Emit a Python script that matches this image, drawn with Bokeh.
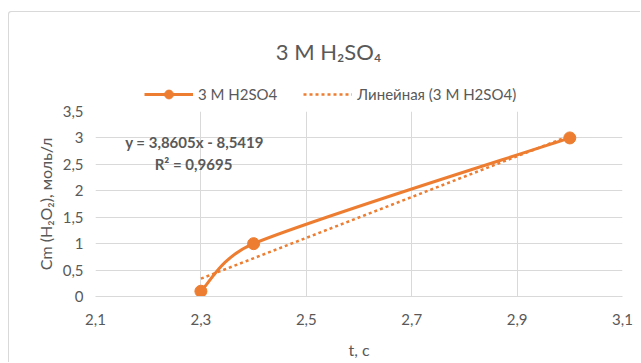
import numpy as np
from bokeh.plotting import figure
from bokeh.layouts import column
from bokeh.models import (Range1d, FixedTicker, Label, Legend, LegendItem)
from bokeh.embed import file_html
from bokeh.resources import INLINE

# ---------------- data ----------------
t_values = [2.3, 2.4, 3.0]
cm_values = [0.1, 1.0, 3.0]
series_name = "3 M H2SO4"
trend_name = "Линейная (3 M H2SO4)"
chart_title = "3 M H\u2082SO\u2084"
x_title = "t, с"
y_title = "Cm (H\u2082O\u2082), моль/л"
x_ticks = [2.1, 2.3, 2.5, 2.7, 2.9, 3.1]
x_tick_labels = ["2,1", "2,3", "2,5", "2,7", "2,9", "3,1"]
y_ticks = [0, 0.5, 1, 1.5, 2, 2.5, 3, 3.5]
y_tick_labels = ["0", "0,5", "1", "1,5", "2", "2,5", "3", "3,5"]

ORANGE = "#ED7D31"
TXT = "#595959"
GRID = "#D9D9D9"
FONT = "Lato"

# ---------------- layout (page pixels) ----------------
OX, OY = 9, 12            # content origin inside the chart-area border
SPLIT = 102               # page y where the header ends and the plot begins
W = 641 - OX
HH = SPLIT - OY           # header height
H = 363 - SPLIT           # main figure height
ML, MR, MT, MB = 95 - OX, 19, 111 - SPLIT, 67
FW, FH = W - ML - MR, H - MT - MB
FRAME_LEFT = OX + ML      # page x of the plot frame's left edge
x0, x1 = 2.1, 3.1
y0, y1 = 0.0, 3.5

# ---------------- main plot ----------------
p = figure(width=W, height=H, output_backend="svg", toolbar_location=None,
           x_range=Range1d(x0, x1), y_range=Range1d(y0, y1),
           min_border_left=ML, min_border_right=MR,
           min_border_top=MT, min_border_bottom=MB,
           background_fill_color="white", border_fill_color="white")
p.outline_line_color = None

p.xgrid.ticker = FixedTicker(ticks=x_ticks)
p.ygrid.ticker = FixedTicker(ticks=y_ticks)
for g in (p.xgrid, p.ygrid):
    g.grid_line_color = GRID
    g.grid_line_width = 1

p.xaxis.ticker = FixedTicker(ticks=x_ticks)
p.yaxis.ticker = FixedTicker(ticks=y_ticks)
p.xaxis.major_label_overrides = {v: s for v, s in zip(x_ticks, x_tick_labels)}
p.yaxis.major_label_overrides = {v: s for v, s in zip(y_ticks, y_tick_labels)}
for ax in (p.xaxis, p.yaxis):
    ax.major_tick_line_color = None
    ax.minor_tick_line_color = None
    ax.major_tick_out = 0
    ax.major_tick_in = 0
    ax.major_label_text_font = FONT
    ax.major_label_text_font_size = "15px"
    ax.major_label_text_color = TXT
    ax.axis_label_text_font = FONT
    ax.axis_label_text_font_style = "normal"
    ax.axis_label_text_color = TXT
    ax.axis_label_text_font_size = "16px"
p.xaxis.axis_line_color = GRID
p.yaxis.axis_line_color = None
p.xaxis.major_label_standoff = 17
p.yaxis.major_label_standoff = 12
p.xaxis.axis_label = x_title
p.yaxis.axis_label = y_title
p.xaxis.axis_label_standoff = 12
p.yaxis.axis_label_standoff = 5


# smoothed series (Excel-like Bezier through the data points)
def smooth_segments(xs, ys, kx, ky):
    P = np.column_stack([np.asarray(xs, float) * kx, np.asarray(ys, float) * ky])
    n = len(P)
    out = []
    for i in range(n - 1):
        p0 = P[max(i - 1, 0)]
        p1 = P[i]
        p2 = P[i + 1]
        p3 = P[min(i + 2, n - 1)]
        L = np.linalg.norm(p2 - p1)

        def clamp(v):
            d = np.linalg.norm(v)
            return v * min(1.0, 0.5 * L / d) if d > 0 else v
        c1 = p1 + clamp((p2 - p0) / 6.0)
        c2 = p2 - clamp((p3 - p1) / 6.0)
        out.append((p1, c1, c2, p2))
    sx = lambda v: v[0] / kx
    sy = lambda v: v[1] / ky
    return dict(
        x0=[sx(s[0]) for s in out], y0=[sy(s[0]) for s in out],
        cx0=[sx(s[1]) for s in out], cy0=[sy(s[1]) for s in out],
        cx1=[sx(s[2]) for s in out], cy1=[sy(s[2]) for s in out],
        x1=[sx(s[3]) for s in out], y1=[sy(s[3]) for s in out],
    )


seg = smooth_segments(t_values, cm_values, FW / (x1 - x0), FH / (y1 - y0))
LINE_STYLE = dict(line_color=ORANGE, line_width=3)
MARK_STYLE = dict(size=12, marker="circle", fill_color=ORANGE, line_color=ORANGE)
TREND_STYLE = dict(line_color=ORANGE, line_width=2.5, line_dash="3 3")

p.bezier(x0=seg["x0"], y0=seg["y0"], x1=seg["x1"], y1=seg["y1"],
         cx0=seg["cx0"], cy0=seg["cy0"], cx1=seg["cx1"], cy1=seg["cy1"],
         **LINE_STYLE)
p.scatter(t_values, cm_values, **MARK_STYLE)

# linear trendline
slope, intercept = np.polyfit(t_values, cm_values, 1)
pred = np.polyval([slope, intercept], t_values)
ss_res = float(np.sum((np.asarray(cm_values) - pred) ** 2))
ss_tot = float(np.sum((np.asarray(cm_values) - np.mean(cm_values)) ** 2))
r2 = 1 - ss_res / ss_tot
tx = [min(t_values), max(t_values)]
ty = [slope * v + intercept for v in tx]
p.line(tx, ty, **TREND_STYLE)

fmt = lambda v: f"{v:.4f}".replace(".", ",")
eq_text = f"y = {fmt(slope)}x - {fmt(-intercept)}"
r2_text = f"R\u00b2 = {fmt(r2)}"


def fx(px):
    return px - FRAME_LEFT


def fy(py):
    return (SPLIT + MT + FH) - py


p.add_layout(Label(x=fx(194), y=fy(141), x_units="screen", y_units="screen",
                   text=eq_text, text_align="center", text_baseline="middle",
                   text_font=FONT, text_font_size="15px", text_font_style="bold",
                   text_color=TXT))
p.add_layout(Label(x=fx(193), y=fy(163), x_units="screen", y_units="screen",
                   text=r2_text, text_align="center", text_baseline="middle",
                   text_font=FONT, text_font_size="15px", text_font_style="bold",
                   text_color=TXT))

# ---------------- header: title + legend ----------------
# header ranges are placed away from the data so its swatch renderers stay hidden
h = figure(width=W, height=HH, output_backend="svg", toolbar_location=None,
           x_range=Range1d(100, 101), y_range=Range1d(100, 101),
           min_border=0, background_fill_color="white", border_fill_color="white")
h.axis.visible = False
h.grid.visible = False
h.outline_line_color = None

h.add_layout(Label(x=328 - FRAME_LEFT, y=SPLIT - 51, x_units="screen", y_units="screen",
                   text=chart_title, text_align="center", text_baseline="alphabetic",
                   text_font=FONT, text_font_size="22px", text_color=TXT))

lg_line = h.line(t_values, cm_values, **LINE_STYLE)
lg_mark = h.scatter(t_values, cm_values, **MARK_STYLE)
lg_trend = h.line(tx, ty, **TREND_STYLE)
legend = Legend(items=[LegendItem(label=series_name, renderers=[lg_line, lg_mark]),
                       LegendItem(label=trend_name, renderers=[lg_trend])],
                orientation="horizontal", location=(144 - FRAME_LEFT, SPLIT - 105),
                padding=0, margin=0, spacing=26, label_standoff=5,
                glyph_width=49, glyph_height=22,
                border_line_color=None, background_fill_alpha=0,
                label_text_font=FONT, label_text_font_size="15px",
                label_text_color=TXT)
h.add_layout(legend, "center")

layout = column(h, p, spacing=0)
layout.styles = {"margin-left": "9px", "margin-top": "12px",
                 "box-shadow": "-1px -1px 0 0 #D9D9D9",
                 "border-top-left-radius": "3px"}

open("out.html", "w").write(file_html(layout, INLINE))
